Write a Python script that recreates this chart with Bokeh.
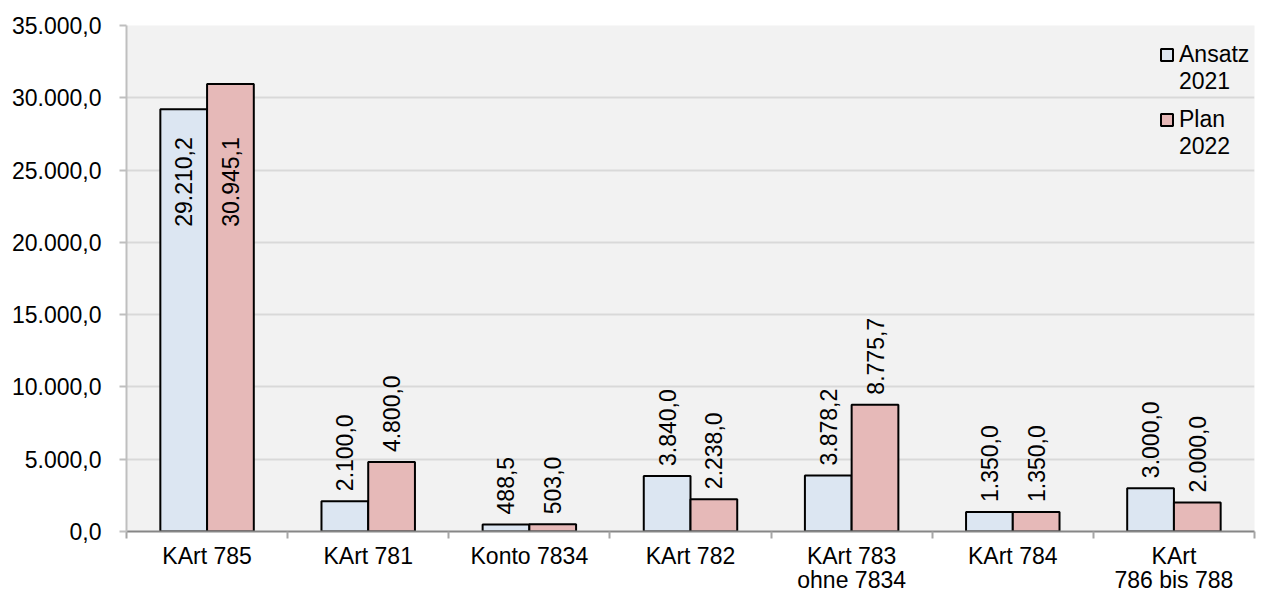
from bokeh.plotting import figure
from bokeh.models import ColumnDataSource, FixedTicker, Legend, LegendItem, Range1d
from bokeh.core.properties import value
from bokeh.transform import dodge
from bokeh.embed import file_html
from bokeh.resources import INLINE
import math

categories = ["KArt 785", "KArt 781", "Konto 7834", "KArt 782", "KArt 783\nohne 7834", "KArt 784", "KArt\n786 bis 788"]
ansatz_2021 = [29210.2, 2100.0, 488.5, 3840.0, 3878.2, 1350.0, 3000.0]
plan_2022 = [30945.1, 4800.0, 503.0, 2238.0, 8775.7, 1350.0, 2000.0]
series_line1 = ["Ansatz", "Plan"]
series_line2 = ["2021", "2022"]
y_ticks = [0, 5000, 10000, 15000, 20000, 25000, 30000, 35000]

FONT = "Liberation Sans"
FS = "23px"
BLUE = "#dce6f2"
PINK = "#e6b9b8"


def de(v):
    s = f"{v:,.1f}"
    return s.replace(",", "X").replace(".", ",").replace("X", ".")


n = len(categories)
xs = [i + 0.5 for i in range(n)]
W = 0.29
OFF = 0.145

p = figure(width=1261, height=596, output_backend="svg", toolbar_location=None,
           x_range=Range1d(0, n), y_range=Range1d(0, 35000),
           min_border_left=126, min_border_right=7, min_border_top=25, min_border_bottom=0)

p.background_fill_color = "#f2f2f2"
p.border_fill_color = "white"
p.outline_line_color = None

src = ColumnDataSource(dict(x=xs, ansatz=ansatz_2021, plan=plan_2022))
r1 = p.vbar(x=dodge("x", -OFF, range=p.x_range), top="ansatz", width=W, source=src,
            fill_color=BLUE, line_color="black", line_width=2)
r2 = p.vbar(x=dodge("x", OFF, range=p.x_range), top="plan", width=W, source=src,
            fill_color=PINK, line_color="black", line_width=2)
dummy = p.vbar(x=[], top=[], width=W, fill_alpha=0, line_alpha=0)

# value labels
lx, ly, lt, la, lo = [], [], [], [], []
for i in range(n):
    grp_min = min(ansatz_2021[i], plan_2022[i])
    for off, v in ((-OFF, ansatz_2021[i]), (OFF, plan_2022[i])):
        lx.append(xs[i] + off)
        lt.append(de(v))
        if v > 20000:
            ly.append(grp_min)
            la.append("right")
            lo.append(28)
        else:
            ly.append(v)
            la.append("left")
            lo.append(-10)
lsrc = ColumnDataSource(dict(x=lx, y=ly, t=lt, a=la, o=lo))
p.text(x="x", y="y", text="t", source=lsrc, angle=math.pi / 2, text_align="a",
       text_baseline="middle", y_offset="o", text_font=value(FONT), text_font_size=FS,
       text_color="black")

# grid
p.xgrid.grid_line_color = None
p.ygrid.grid_line_color = "#d9d9d9"
p.ygrid.grid_line_width = 2
p.ygrid.ticker = FixedTicker(ticks=y_ticks)

# y axis
p.yaxis.ticker = FixedTicker(ticks=y_ticks)
p.yaxis.major_label_overrides = {t: de(t) for t in y_ticks}
p.yaxis.axis_line_color = "#bfbfbf"
p.yaxis.axis_line_width = 2
p.yaxis.major_tick_line_color = "#bfbfbf"
p.yaxis.major_tick_line_width = 2
p.yaxis.major_tick_out = 7
p.yaxis.major_tick_in = 0
p.yaxis.minor_tick_line_color = None
p.yaxis.major_label_standoff = 18
p.yaxis.major_label_text_font = FONT
p.yaxis.major_label_text_font_size = FS
p.yaxis.major_label_text_color = "black"

# x axis
p.xaxis.ticker = FixedTicker(ticks=xs, minor_ticks=list(range(n + 1)))
p.xaxis.major_label_overrides = {x: c for x, c in zip(xs, categories)}
p.xaxis.axis_line_color = "#868686"
p.xaxis.axis_line_width = 2
p.xaxis.major_tick_line_color = None
p.xaxis.minor_tick_line_color = "#a6a6a6"
p.xaxis.minor_tick_line_width = 2
p.xaxis.minor_tick_out = 7
p.xaxis.minor_tick_in = 0
p.xaxis.major_label_standoff = 4
p.xaxis.major_label_text_font = FONT
p.xaxis.major_label_text_font_size = FS
p.xaxis.major_label_text_color = "black"
p.xaxis.major_label_text_line_height = 0.95

common = dict(location="top_right", border_line_color=None, background_fill_alpha=0,
              label_text_font=FONT, label_text_font_size=FS, label_text_color="black",
              glyph_width=15, glyph_height=15, spacing=0, margin=0, padding=0,
              label_standoff=5, label_width=75, title=" ", title_text_font_size="10px")
leg1 = Legend(items=[LegendItem(label=series_line1[0], renderers=[r1]),
                     LegendItem(label=series_line2[0], renderers=[dummy])],
              title_standoff=5, **common)
leg2 = Legend(items=[LegendItem(label=series_line1[1], renderers=[r2]),
                     LegendItem(label=series_line2[1], renderers=[dummy])],
              title_standoff=70, **common)
p.add_layout(leg1)
p.add_layout(leg2)

open("out.html", "w").write(file_html(p, INLINE))
